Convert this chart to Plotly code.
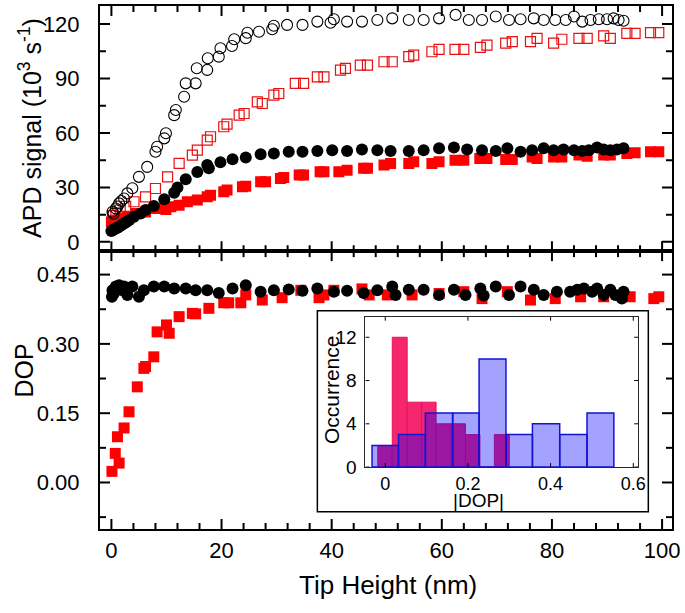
import plotly.graph_objects as go

FONT = "Liberation Sans, Arial, sans-serif"

# ---------------- data ----------------
open_circ_x = [0.2, 0.4, 0.8, 1.1, 1.4, 1.8, 2.3, 2.9, 3.8, 5.0, 6.5, 8.0, 8.3, 9.6, 9.9, 11.4, 11.7,
               13.2, 13.5, 15.3, 15.5, 17.4, 17.5, 19.5, 19.8, 21.9, 22.3, 24.4, 24.7, 26.8, 29.2,
               29.5, 31.9, 34.7, 37.4, 39.8, 40.4, 42.8, 45.5, 48.3, 51.0, 54.0, 56.7, 59.5, 62.5,
               64.9, 67.3, 69.8, 72.2, 74.3, 76.7, 78.5, 80.6, 82.5, 84.0, 85.5, 87.0, 88.5, 90.0,
               91.2, 92.1, 93.0]
open_circ_y = [16.6, 15.5, 18.4, 19.5, 21.2, 22.5, 23.9, 26.7, 29.5, 35.8, 41.3, 49.6, 52.4, 57.0, 59.8,
               69.8, 72.6, 79.9, 87.3, 87.3, 95.6, 94.7, 101.1, 102.0, 106.6, 107.9, 111.6, 112.2,
               115.2, 115.7, 117.1, 119.0, 119.5, 119.5, 121.3, 120.7, 122.6, 121.3, 121.3, 122.2,
               123.1, 122.2, 122.2, 123.1, 125.0, 122.2, 122.2, 124.1, 122.2, 122.6, 123.1, 122.2,
               122.2, 122.2, 124.1, 121.3, 122.2, 122.6, 122.6, 123.1, 122.2, 121.8]

open_sq_x = [0.2, 0.8, 1.6, 2.6, 4.1, 6.2, 8.0, 10.2, 12.3, 14.7, 15.6, 17.4, 18.0, 20.4, 21.0, 23.2,
             24.1, 26.5, 27.4, 29.5, 30.4, 33.4, 34.9, 37.4, 38.6, 41.6, 42.5, 45.2, 46.5, 49.5, 51.0,
             54.0, 54.9, 58.2, 59.5, 62.4, 64.0, 67.0, 68.2, 71.6, 72.8, 76.1, 77.3, 80.3, 81.8, 84.9,
             86.4, 89.4, 90.6, 93.6, 95.1, 97.9, 99.4]
open_sq_y = [14.5, 16.0, 17.5, 19.5, 22.1, 24.8, 29.4, 35.8, 43.2, 47.8, 50.5, 56.0, 57.9, 63.4, 64.8,
             69.8, 70.7, 77.1, 76.2, 80.8, 81.7, 87.3, 87.3, 90.9, 90.9, 94.6, 95.5, 97.3, 97.3, 99.2,
             99.2, 102.0, 102.9, 104.7, 106.0, 106.0, 106.0, 107.1, 108.4, 109.4, 110.3, 110.3, 112.1,
             109.4, 111.6, 112.1, 112.1, 113.4, 112.1, 114.8, 114.8, 115.2, 115.2]

fill_circ_x = [0.0, 0.2, 0.5, 0.8, 1.1, 1.4, 1.8, 2.3, 2.7, 3.2, 4.1, 5.3, 6.2, 7.7, 9.6, 11.4, 12.0,
               13.5, 15.6, 17.4, 17.7, 19.8, 22.0, 24.4, 27.1, 29.5, 32.2, 34.7, 37.4, 40.1, 42.8,
               45.5, 48.3, 50.7, 54.0, 56.7, 59.5, 62.2, 64.6, 67.3, 69.8, 71.9, 74.3, 76.4, 78.5,
               80.3, 82.1, 84.0, 85.5, 86.7, 88.2, 89.4, 90.6, 91.8, 93.0]
fill_circ_y = [6.0, 6.4, 6.9, 7.3, 7.8, 8.3, 9.2, 10.1, 11.0, 11.9, 13.8, 15.6, 17.5, 19.8, 23.5, 27.0,
               30.0, 34.5, 38.5, 42.3, 40.5, 43.8, 45.5, 46.5, 48.3, 48.7, 49.6, 49.6, 50.1, 50.5,
               50.1, 50.9, 50.5, 50.1, 50.1, 50.5, 51.5, 52.0, 50.9, 50.5, 50.1, 51.5, 49.6, 50.5,
               51.5, 50.5, 50.9, 50.5, 50.1, 50.5, 52.0, 50.9, 50.5, 50.9, 51.5]

fill_sq_x = [0.0, 0.4, 0.8, 1.4, 2.9, 4.4, 6.2, 8.0, 9.9, 10.8, 12.3, 13.8, 15.6, 17.4, 18.0, 20.4,
             21.0, 23.8, 24.4, 27.1, 28.0, 30.7, 31.3, 34.1, 34.9, 37.9, 38.6, 41.3, 42.8, 45.8, 46.5,
             49.5, 50.7, 54.0, 54.9, 58.2, 59.5, 62.4, 64.0, 66.9, 68.2, 71.6, 72.8, 76.4, 77.3, 80.3,
             81.8, 84.9, 86.4, 89.4, 90.6, 93.6, 95.1, 97.9, 99.4]
fill_sq_y = [11.0, 11.5, 12.0, 12.9, 13.8, 15.6, 16.5, 18.4, 17.8, 19.3, 20.2, 22.1, 23.0, 24.8, 25.7,
             27.6, 28.5, 30.3, 30.7, 33.1, 33.1, 34.9, 35.5, 36.8, 36.8, 38.6, 38.6, 38.6, 39.5, 40.5,
             40.5, 42.3, 43.2, 43.2, 44.1, 43.2, 44.1, 45.0, 45.0, 45.9, 45.9, 45.3, 45.3, 46.8, 45.9,
             46.8, 46.8, 47.8, 47.2, 47.8, 47.8, 48.7, 49.1, 49.6, 49.6]

dop_sq_x = [0.1, 0.7, 1.1, 1.4, 2.3, 3.2, 4.7, 5.9, 6.2, 7.7, 8.3, 10.0, 10.5, 12.3, 14.7, 15.3, 17.7,
            20.4, 21.3, 23.5, 24.4, 27.4, 31.0, 34.4, 37.7, 38.6, 40.4, 45.5, 46.8, 50.1, 54.6, 59.5,
            64.0, 67.3, 71.9, 76.1, 80.6, 85.2, 89.4, 94.2, 98.5, 99.4]
dop_sq_y = [0.024, 0.063, 0.099, 0.042, 0.118, 0.153, 0.207, 0.247, 0.251, 0.272, 0.326, 0.341, 0.323,
            0.359, 0.366, 0.365, 0.377, 0.389, 0.389, 0.389, 0.406, 0.395, 0.400, 0.416, 0.400, 0.406,
            0.416, 0.419, 0.406, 0.406, 0.406, 0.409, 0.413, 0.398, 0.413, 0.395, 0.398, 0.402, 0.402,
            0.402, 0.398, 0.402]

dop_circ_x = [0.1, 0.2, 0.5, 0.8, 1.1, 1.4, 2.0, 2.3, 2.9, 3.8, 5.0, 5.9, 7.7, 9.6, 11.4, 13.5, 15.3,
              17.4, 19.5, 22.0, 24.4, 27.1, 29.5, 32.2, 34.7, 37.4, 40.4, 42.8, 45.8, 48.3, 51.0, 51.6,
              54.0, 56.7, 59.5, 62.2, 64.3, 67.0, 67.6, 69.8, 72.2, 74.3, 76.7, 78.5, 80.9, 83.3, 84.6,
              85.8, 87.3, 88.2, 89.4, 90.6, 91.5, 92.7, 93.0]
dop_circ_y = [0.402, 0.416, 0.410, 0.424, 0.420, 0.427, 0.416, 0.424, 0.406, 0.424, 0.402, 0.416, 0.424,
              0.424, 0.420, 0.420, 0.416, 0.416, 0.410, 0.420, 0.427, 0.413, 0.416, 0.418, 0.415, 0.420,
              0.413, 0.415, 0.410, 0.416, 0.424, 0.406, 0.417, 0.417, 0.406, 0.417, 0.406, 0.420, 0.405,
              0.424, 0.406, 0.424, 0.417, 0.406, 0.413, 0.413, 0.417, 0.420, 0.413, 0.420, 0.406, 0.417,
              0.406, 0.398, 0.413]

pink_edges = [-0.018, 0.017, 0.053, 0.088, 0.123, 0.159, 0.194, 0.229, 0.264, 0.300]
pink_counts = [2, 12, 6, 6, 4, 4, 3, 0, 3]
blue_edges = [-0.032, 0.032, 0.097, 0.163, 0.227, 0.292, 0.356, 0.422, 0.488, 0.553]
blue_counts = [2, 3, 5, 5, 10, 3, 4, 3, 5]

# tick positions
x_major = [0, 20, 40, 60, 80, 100]
x_minor = [4, 8, 12, 16, 24, 28, 32, 36, 44, 48, 52, 56, 64, 68, 72, 76, 84, 88, 92, 96]
dop_major = [0.0, 0.15, 0.30, 0.45]
dop_minor = [-0.075, 0.075, 0.225, 0.375]
apd_major = [0, 30, 60, 90, 120]
apd_minor = [15, 45, 75, 105]
inset_x_major = [0, 0.2, 0.4, 0.6]
inset_y_major = [0, 4, 8, 12]


def centers(edges):
    return [(a + b) / 2 for a, b in zip(edges[:-1], edges[1:])]


def widths(edges):
    return [b - a for a, b in zip(edges[:-1], edges[1:])]


split = 0.5313
X_RANGE = [-2.07, 101.8]
DOP_RANGE = [-0.1007, 0.5008]
APD_RANGE = [-5.1, 129.9]
IN_X_RANGE = [-0.048, 0.612]
IN_Y_RANGE = [0, 13.9]
IN_XDOM = [0.464, 0.941]
IN_YDOM = [0.1184, 0.4059]
PLOT_W, PLOT_H = 572.2, 523.8   # plotting-area size in px (685x613 minus margins)

fig = go.Figure()

fig.add_trace(go.Scatter(x=fill_sq_x, y=fill_sq_y, xaxis="x2", yaxis="y2", mode="markers",
                         marker=dict(symbol="square", size=11, color="#FF0000", line=dict(width=0))))
fig.add_trace(go.Scatter(x=open_sq_x, y=open_sq_y, xaxis="x2", yaxis="y2", mode="markers",
                         marker=dict(symbol="square-open", size=10, color="#E81010", line=dict(width=1.2))))
fig.add_trace(go.Scatter(x=fill_circ_x, y=fill_circ_y, xaxis="x2", yaxis="y2", mode="markers",
                         marker=dict(symbol="circle", size=12, color="black", line=dict(width=0))))
fig.add_trace(go.Scatter(x=open_circ_x, y=open_circ_y, xaxis="x2", yaxis="y2", mode="markers",
                         marker=dict(symbol="circle-open", size=11, color="black", line=dict(width=1.1))))

fig.add_trace(go.Scatter(x=dop_sq_x, y=dop_sq_y, xaxis="x", yaxis="y", mode="markers",
                         marker=dict(symbol="square", size=11, color="#FF0000", line=dict(width=0))))
fig.add_trace(go.Scatter(x=dop_circ_x, y=dop_circ_y, xaxis="x", yaxis="y", mode="markers",
                         marker=dict(symbol="circle", size=12, color="black", line=dict(width=0))))

fig.add_trace(go.Bar(x=centers(pink_edges), y=pink_counts, width=widths(pink_edges),
                     xaxis="x3", yaxis="y3",
                     marker=dict(color="rgb(245,38,110)", line=dict(color="rgb(225,20,90)", width=1))))
fig.add_trace(go.Bar(x=centers(blue_edges), y=blue_counts, width=widths(blue_edges),
                     xaxis="x3", yaxis="y3",
                     marker=dict(color="rgba(0,0,255,0.36)", line=dict(color="rgb(20,20,210)", width=1.5))))


# ---- inward tick marks, drawn as short line segments on each subplot's own axes ----
def tick_trace(xa, ya, xr, yr, w_px, h_px, xt_major, xt_minor, yt_major, yt_minor,
               major_len, minor_len, width):
    dx = (xr[1] - xr[0]) / w_px   # data units per pixel
    dy = (yr[1] - yr[0]) / h_px
    xs, ys = [], []
    for vals, ln in ((xt_major, major_len), (xt_minor, minor_len)):
        for v in vals:
            xs += [v, v, None, v, v, None]
            ys += [yr[0], yr[0] + ln * dy, None, yr[1], yr[1] - ln * dy, None]
    for vals, ln in ((yt_major, major_len), (yt_minor, minor_len)):
        for v in vals:
            xs += [xr[0], xr[0] + ln * dx, None, xr[1], xr[1] - ln * dx, None]
            ys += [v, v, None, v, v, None]
    return go.Scatter(x=xs, y=ys, xaxis=xa, yaxis=ya, mode="lines", cliponaxis=False,
                      line=dict(color="black", width=width), hoverinfo="skip",
                      showlegend=False, connectgaps=False)


fig.add_trace(tick_trace("x", "y", X_RANGE, DOP_RANGE, PLOT_W, PLOT_H * split,
                         x_major, x_minor, dop_major, dop_minor, 10, 6, 2))
fig.add_trace(tick_trace("x2", "y2", X_RANGE, APD_RANGE, PLOT_W, PLOT_H * (1 - split),
                         x_major, x_minor, apd_major, apd_minor, 10, 6, 2))
fig.add_trace(tick_trace("x3", "y3", IN_X_RANGE, IN_Y_RANGE, PLOT_W * (IN_XDOM[1] - IN_XDOM[0]),
                         PLOT_H * (IN_YDOM[1] - IN_YDOM[0]),
                         inset_x_major, [], inset_y_major, [], 4, 4, 1))

tickfont = dict(family=FONT, size=22, color="black")
base = dict(showline=True, linecolor="black", linewidth=2, mirror=True, ticks="",
            showgrid=False, zeroline=False, tickfont=tickfont)

inset_box = dict(type="rect", xref="paper", yref="paper", x0=0.380, x1=0.9586, y0=0.033, y1=0.4173,
                 line=dict(color="black", width=1.5), fillcolor="rgba(0,0,0,0)", layer="above")

fig.update_layout(
    width=685, height=613,
    margin=dict(l=99.5, r=13.3, t=5.5, b=83.7, autoexpand=False),
    paper_bgcolor="white", plot_bgcolor="rgba(0,0,0,0)",
    showlegend=False, barmode="overlay",
    font=dict(family=FONT, color="black"),
    xaxis=dict(base, domain=[0, 1], anchor="y", range=X_RANGE, tickvals=x_major,
               ticklabelstandoff=1),
    yaxis=dict(base, domain=[0, split], anchor="x", range=DOP_RANGE, tickvals=dop_major,
               tickformat=".2f", ticklabelstandoff=14),
    xaxis2=dict(base, domain=[0, 1], anchor="y2", range=X_RANGE, tickvals=x_major,
                showticklabels=False),
    yaxis2=dict(base, domain=[split, 1], anchor="x2", range=APD_RANGE, tickvals=apd_major,
                ticklabelstandoff=14),
    xaxis3=dict(domain=IN_XDOM, anchor="y3", range=IN_X_RANGE, tickvals=inset_x_major,
                showline=True, linecolor="rgb(40,40,40)", linewidth=1, mirror=True, ticks="",
                showgrid=False, zeroline=False, ticklabelstandoff=0,
                tickfont=dict(family=FONT, size=18, color="black")),
    yaxis3=dict(domain=IN_YDOM, anchor="x3", range=IN_Y_RANGE, tickvals=inset_y_major,
                showline=True, linecolor="rgb(40,40,40)", linewidth=1, mirror=True, ticks="",
                showgrid=False, zeroline=False, ticklabelstandoff=4,
                tickfont=dict(family=FONT, size=19, color="black")),
    shapes=[inset_box],
    annotations=[
        dict(text="APD signal (10<sup>3</sup> s<sup>-1</sup>)", xref="paper", yref="paper",
             x=-0.1215, y=0.766, textangle=-90, showarrow=False, xanchor="center", yanchor="middle",
             font=dict(family=FONT, size=25, color="black")),
        dict(text="DOP", xref="paper", yref="paper", x=-0.132, y=0.304, textangle=-90,
             showarrow=False, xanchor="center", yanchor="middle",
             font=dict(family=FONT, size=25, color="black")),
        dict(text="Tip Height (nm)", xref="paper", yref="paper", x=0.504, y=-0.108,
             showarrow=False, xanchor="center", yanchor="middle",
             font=dict(family=FONT, size=26, color="black")),
        dict(text="Occurrence", xref="paper", yref="paper", x=0.406, y=0.266, textangle=-90,
             showarrow=False, xanchor="center", yanchor="middle",
             font=dict(family=FONT, size=21, color="black")),
        dict(text="|DOP|", xref="paper", yref="paper", x=0.6615, y=0.054,
             showarrow=False, xanchor="center", yanchor="middle",
             font=dict(family=FONT, size=19, color="black")),
    ],
)

fig.write_html("out.html", config={"displayModeBar": False},
               post_script="document.body.style.margin='0';document.body.style.padding='0';")
